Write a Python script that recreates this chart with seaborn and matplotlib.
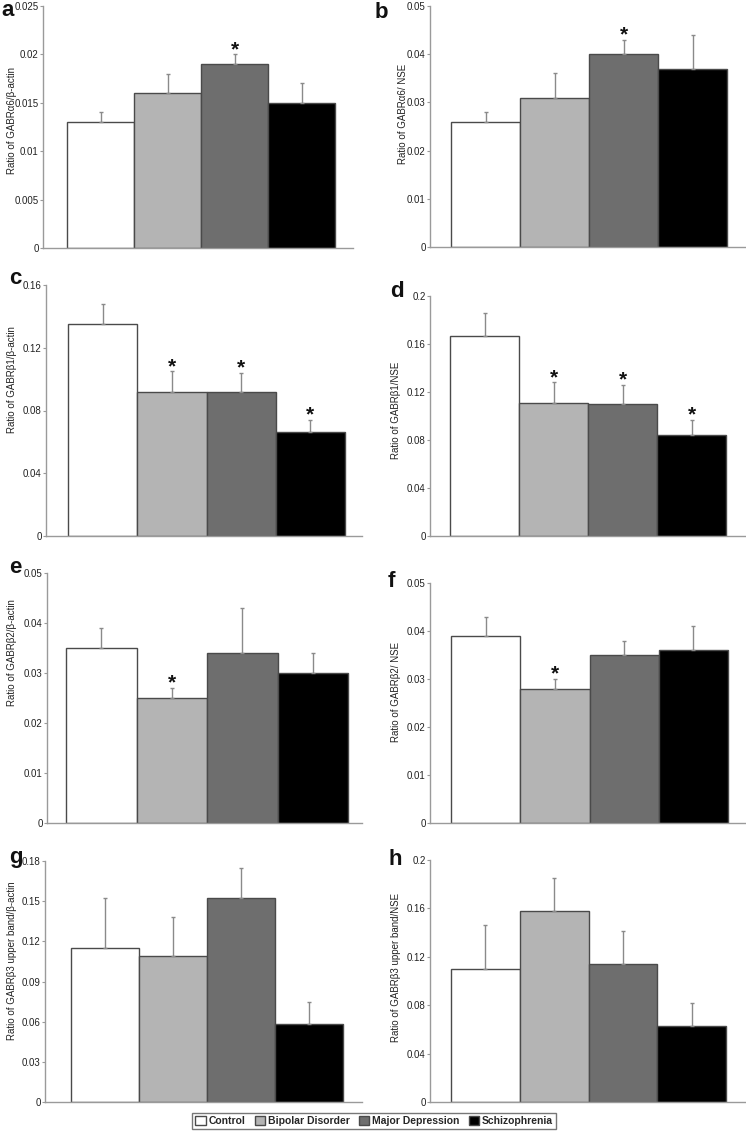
import numpy as np
import pandas as pd
import matplotlib
matplotlib.use("Agg")
import matplotlib.pyplot as plt
from matplotlib.patches import Patch
import seaborn as sns

# ---------------- data ----------------
groups = ["Control", "Bipolar Disorder", "Major Depression", "Schizophrenia"]
colors = ["#ffffff", "#b4b4b4", "#6e6e6e", "#000000"]

panel_letters = ["a", "b", "c", "d", "e", "f", "g", "h"]
ylabels = [
    "Ratio of GABRα6/β-actin",
    "Ratio of GABRα6/ NSE",
    "Ratio of GABRβ1/β-actin",
    "Ratio of GABRβ1/NSE",
    "Ratio of GABRβ2/β-actin",
    "Ratio of GABRβ2/ NSE",
    "Ratio of GABRβ3 upper band/β-actin",
    "Ratio of GABRβ3 upper band/NSE",
]
vals_a = [0.013, 0.016, 0.019, 0.015]
errs_a = [0.001, 0.002, 0.001, 0.002]
vals_b = [0.026, 0.031, 0.040, 0.037]
errs_b = [0.002, 0.005, 0.003, 0.007]
vals_c = [0.135, 0.092, 0.092, 0.066]
errs_c = [0.013, 0.013, 0.012, 0.008]
vals_d = [0.167, 0.111, 0.110, 0.084]
errs_d = [0.019, 0.017, 0.016, 0.013]
vals_e = [0.035, 0.025, 0.034, 0.030]
errs_e = [0.004, 0.002, 0.009, 0.004]
vals_f = [0.039, 0.028, 0.035, 0.036]
errs_f = [0.004, 0.002, 0.003, 0.005]
vals_g = [0.115, 0.109, 0.152, 0.058]
errs_g = [0.037, 0.029, 0.023, 0.017]
vals_h = [0.110, 0.158, 0.114, 0.063]
errs_h = [0.036, 0.027, 0.027, 0.019]
stars_a = [0, 0, 1, 0]
stars_b = [0, 0, 1, 0]
stars_c = [0, 1, 1, 1]
stars_d = [0, 1, 1, 1]
stars_e = [0, 1, 0, 0]
stars_f = [0, 1, 0, 0]
stars_g = [0, 0, 0, 0]
stars_h = [0, 0, 0, 0]
yticks_a = [0, 0.005, 0.01, 0.015, 0.02, 0.025]
yticks_b = [0, 0.01, 0.02, 0.03, 0.04, 0.05]
yticks_c = [0, 0.04, 0.08, 0.12, 0.16]
yticks_d = [0, 0.04, 0.08, 0.12, 0.16, 0.2]
yticks_e = [0, 0.01, 0.02, 0.03, 0.04, 0.05]
yticks_f = [0, 0.01, 0.02, 0.03, 0.04, 0.05]
yticks_g = [0, 0.03, 0.06, 0.09, 0.12, 0.15, 0.18]
yticks_h = [0, 0.04, 0.08, 0.12, 0.16, 0.2]

all_vals = [vals_a, vals_b, vals_c, vals_d, vals_e, vals_f, vals_g, vals_h]
all_errs = [errs_a, errs_b, errs_c, errs_d, errs_e, errs_f, errs_g, errs_h]
all_stars = [stars_a, stars_b, stars_c, stars_d, stars_e, stars_f, stars_g, stars_h]
all_ticks = [yticks_a, yticks_b, yticks_c, yticks_d, yticks_e, yticks_f, yticks_g, yticks_h]

# ---------------- layout (pixels) ----------------
W, H = 746, 1134
# (axes left, top, right, bottom, bar-left, bar-right)
boxes = [
    (43, 6, 353, 248, 67, 335),
    (430, 6, 746, 247, 451, 727),
    (46, 285, 362, 536, 68, 345),
    (430, 296, 746, 536, 450, 726),
    (47, 573, 362, 823, 66, 348),
    (430, 583, 746, 823, 451, 728),
    (45, 861, 362, 1102, 71, 343),
    (430, 860, 746, 1102, 451, 726),
]
letter_pos = [(1, 16), (375, 18), (9, 284), (390, 297), (9, 573), (388, 587), (9, 863), (388, 865)]
ylabel_pos = [(17, 120), (408, 114), (17, 380), (401, 410), (17, 653), (401, 692), (17, 961), (401, 967)]

sns.set_style("white")
plt.rcParams["font.family"] = ["Liberation Sans", "DejaVu Sans"]

fig = plt.figure(figsize=(W / 100, H / 100), dpi=100)
spine_col = "#9a9a9a"

for k in range(8):
    l, t, r, b, bl, br = boxes[k]
    ax = fig.add_axes([l / W, 1 - b / H, (r - l) / W, (b - t) / H])
    df = pd.DataFrame({"group": groups, "value": all_vals[k]})
    sns.barplot(data=df, x="group", y="value", hue="group", order=groups,
                hue_order=groups, palette=colors, legend=False, width=1.0,
                edgecolor="#4a4a4a", linewidth=1.0, errorbar=None, ax=ax,
                zorder=2)
    x = np.arange(4)
    errs = np.array(all_errs[k])
    vals = np.array(all_vals[k])
    ax.errorbar(x, vals, yerr=[np.zeros(4), errs], fmt="none",
                ecolor="#8a8a8a", elinewidth=1.0, capsize=1.5, capthick=1.0,
                zorder=3)
    for i in range(4):
        if all_stars[k][i]:
            ax.annotate("*", (x[i], vals[i] + errs[i]), xytext=(0, 3.5),
                        textcoords="offset points", ha="center", va="center",
                        fontsize=15, fontweight="bold", color="#111111")
    unit = (br - bl) / 4
    ax.set_xlim(-0.5 - (bl - l) / unit, 3.5 + (r - br) / unit)
    ticks = all_ticks[k]
    ax.set_ylim(0, ticks[-1])
    ax.set_yticks(ticks)
    ax.set_yticklabels([f"{v:g}" for v in ticks])
    ax.set_xticks([])
    ax.set_xlabel("")
    ax.set_ylabel(ylabels[k], fontsize=7, color="#222222")
    lx, ly = ylabel_pos[k]
    ax.yaxis.set_label_coords((lx - l) / (r - l), (b - ly) / (b - t))
    ax.tick_params(axis="y", length=2, width=0.8, color=spine_col,
                   labelsize=7, pad=1, labelcolor="#222222", left=True)
    for s in ["top", "right"]:
        ax.spines[s].set_visible(False)
    for s in ["left", "bottom"]:
        ax.spines[s].set_color(spine_col)
        ax.spines[s].set_linewidth(1.0)
    lxp, lyp = letter_pos[k]
    fig.text(lxp / W, 1 - lyp / H, panel_letters[k], fontsize=16,
             fontweight="bold", ha="left", va="baseline", color="#111111")

handles = [Patch(facecolor=c, edgecolor="#4a4a4a", linewidth=1.0) for c in colors]
leg = fig.legend(handles, groups, loc="center", bbox_to_anchor=(374 / W, 1 - 1121 / H),
                 ncol=4, frameon=True, fancybox=False, edgecolor="#555555",
                 prop={"size": 7.5, "weight": "bold"}, handlelength=1.0,
                 handleheight=1.0, handletextpad=0.25, columnspacing=0.9,
                 borderpad=0.3, borderaxespad=0)
leg.get_frame().set_linewidth(1.0)

fig.savefig("out.png", dpi=100, facecolor="white")
